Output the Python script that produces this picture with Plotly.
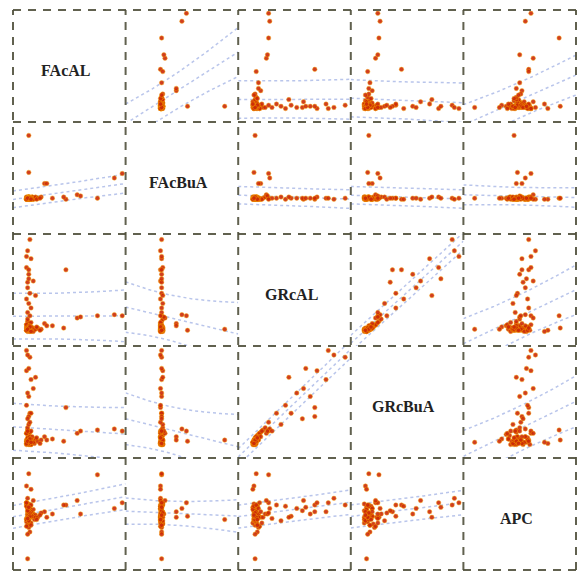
import numpy as np
import plotly.graph_objects as go
from plotly.subplots import make_subplots

labels = ["FAcAL", "FAcBuA", "GRcAL", "GRcBuA", "APC"]

FAcAL = [12, 13, 14, 15, 12, 16, 13, 14, 17, 15, 12, 13, 18, 14, 16, 15, 13, 12, 14, 17,
         19, 15, 13, 16, 14, 12, 15, 18, 13, 14, 16, 20, 12, 15, 17, 13, 14, 16, 15, 13,
         97, 75, 57, 47, 35, 28, 14, 14, 30, 90, 60, 45,
         15, 13, 16, 12, 14, 18, 13, 15, 12, 14, 16, 13, 15, 14, 13, 12, 14, 20,
         13, 14, 12, 15, 13, 16, 22, 25, 21, 24]
FAcBuA = [31, 32, 31, 33, 32, 31, 32, 32, 33, 31, 32, 31, 32, 33, 32, 31, 32, 32, 31, 33,
          32, 31, 32, 32, 33, 31, 32, 31, 32, 33, 31, 32, 32, 31, 32, 33, 31, 32, 32, 31,
          54, 32, 35, 31, 32, 45, 88, 55, 45, 50, 34, 33,
          32, 31, 32, 33, 32, 31, 32, 32, 31, 33, 32, 32, 31, 32, 32, 32, 32, 33,
          32, 32, 31, 32, 32, 31, 32, 33, 31, 32]
GRcAL = [14, 15, 16, 13, 17, 15, 14, 18, 16, 15, 19, 14, 16, 17, 15, 20, 13, 16, 18, 14,
         15, 17, 22, 16, 14, 19, 15, 13, 17, 16, 21, 15, 14, 18, 16, 24, 15, 17, 14, 16,
         27, 27, 25, 68, 18, 20, 15, 14, 18, 28, 26, 16,
         95, 85, 78, 70, 64, 58, 52, 47, 42, 38, 34, 30, 27, 68, 57, 80, 60, 45,
         15, 16, 14, 17, 15, 13, 16, 15, 17, 14]
GRcBuA = [13, 17, 19, 12, 16, 12, 15, 21, 16, 18, 22, 13, 15, 20, 12, 23, 14, 15, 19, 16,
          13, 18, 25, 17, 12, 22, 16, 14, 18, 13, 24, 17, 12, 19, 19, 27, 13, 17, 16, 15,
          24, 25, 22, 45, 17, 19, 16, 15, 16, 26, 24, 15,
          90, 92, 70, 78, 55, 62, 58, 40, 47, 30, 40, 24, 32, 37, 35, 96, 80, 72,
          14, 16, 13, 17, 15, 14, 15, 16, 18, 13]
APC = [46, 40, 55, 42, 58, 47, 52, 38, 51, 48, 60, 44, 50, 41, 53, 47, 56, 43, 48, 50,
       45, 57, 47, 49, 59, 39, 48, 54, 46, 52, 42, 49, 45, 55, 48, 50, 44, 40, 57, 49,
       60, 85, 62, 58, 50, 52, 45, 48, 47, 55, 50, 58,
       58, 64, 52, 60, 50, 62, 55, 48, 57, 44, 58, 46, 51, 52, 53, 60, 56, 47,
       10, 86, 75, 34, 32, 72, 47, 51, 45, 49]

data = [FAcAL, FAcBuA, GRcAL, GRcBuA, APC]
axis_range = [0, 100]
nvar = len(labels)

fig = make_subplots(rows=nvar, cols=nvar, horizontal_spacing=0, vertical_spacing=0)

line_color = "rgba(115,140,215,0.5)"

for i in range(nvar):
    for j in range(nvar):
        r, c = i + 1, j + 1
        if i == j:
            continue
        x = np.array(data[j], dtype=float)
        y = np.array(data[i], dtype=float)
        b, a = np.polyfit(x, y, 1)
        n = len(x)
        resid = y - (a + b * x)
        s = np.sqrt(np.sum(resid ** 2) / (n - 2))
        xbar = x.mean()
        sxx = np.sum((x - xbar) ** 2)
        xs = np.linspace(axis_range[0], axis_range[1], 60)
        yhat = a + b * xs
        se = s * np.sqrt(1 + 1 / n + (xs - xbar) ** 2 / sxx)
        for yy in (yhat + se, yhat, yhat - se):
            fig.add_trace(go.Scatter(x=xs, y=yy, mode="lines",
                                     line=dict(color=line_color, width=1.5, dash="dot"),
                                     hoverinfo="skip", showlegend=False), row=r, col=c)
        fig.add_trace(go.Scatter(x=x, y=y, mode="markers",
                                 marker=dict(size=4.5, color="#cc2a08", opacity=0.9,
                                             line=dict(color="rgba(250,170,0,0.9)", width=0.5)),
                                 showlegend=False, cliponaxis=False), row=r, col=c)

for i in range(nvar):
    for j in range(nvar):
        fig.update_xaxes(range=axis_range, showticklabels=False, showgrid=False,
                         zeroline=False, showline=False, ticks="", row=i + 1, col=j + 1)
        fig.update_yaxes(range=axis_range, showticklabels=False, showgrid=False,
                         zeroline=False, showline=False, ticks="", row=i + 1, col=j + 1)

# diagonal labels
for k in range(nvar):
    fig.add_annotation(text="<b>" + labels[k] + "</b>", xref="paper", yref="paper",
                       x=(k + 0.47) / nvar, y=1 - (k + 0.54) / nvar, showarrow=False,
                       xanchor="center", yanchor="middle",
                       font=dict(family="Liberation Serif", size=16, color="#222222"))

# dashed cell borders
shapes = []
dash_col = "rgba(80,80,60,0.9)"
for k in range(nvar + 1):
    p = k / nvar
    shapes.append(dict(type="line", xref="paper", yref="paper", x0=p, x1=p, y0=0, y1=1,
                       line=dict(color=dash_col, width=2, dash="8px,7px")))
    shapes.append(dict(type="line", xref="paper", yref="paper", x0=0, x1=1, y0=p, y1=p,
                       line=dict(color=dash_col, width=2, dash="8px,7px")))
fig.update_layout(shapes=shapes)

fig.update_layout(width=577, height=564, margin=dict(l=5, r=9, t=2, b=2),
                  paper_bgcolor="white", plot_bgcolor="white", showlegend=False)

fig.write_html("out.html")
